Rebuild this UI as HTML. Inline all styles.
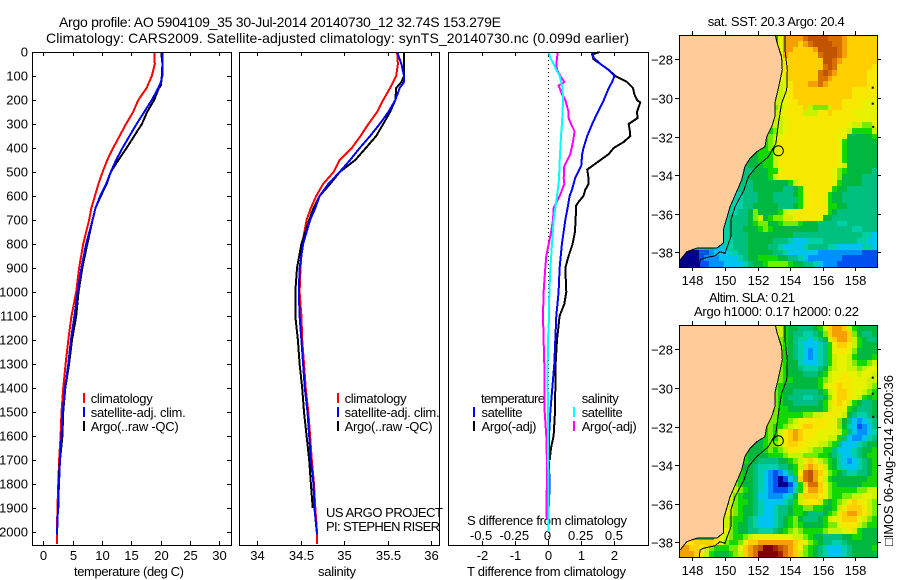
<!DOCTYPE html>
<html>
<head>
<meta charset="utf-8">
<title>Argo profile chart</title>
<style>
html,body{margin:0;padding:0;background:#fff;}
svg{display:block;font-family:"Liberation Sans",sans-serif;}
text{fill:#000;font-size:13px;}
</style>
</head>
<body>
<svg id="chart" width="900" height="580" viewBox="0 0 900 580" xmlns="http://www.w3.org/2000/svg">
<rect x="0" y="0" width="900" height="580" fill="#fff"/>
<text x="59" y="27" style="font-size:14px" textLength="442">Argo profile: AO 5904109_35 30-Jul-2014 20140730_12 32.74S 153.279E</text>
<text x="46" y="43" style="font-size:14px" textLength="583">Climatology: CARS2009. Satellite-adjusted climatology: synTS_20140730.nc (0.099d earlier)</text>

<text x="74" y="576" textLength="110">temperature (deg C)</text>
<text x="318" y="576" textLength="38">salinity</text>
<text x="467" y="576" textLength="159">T difference from climatology</text>
<text x="467" y="525" textLength="160">S difference from climatology</text>

<text x="90.7" y="403" textLength="62">climatology</text>
<text x="90.7" y="417" textLength="95">satellite-adj. clim.</text>
<text x="90.7" y="431" textLength="88">Argo(..raw -QC)</text>
<text x="344.6" y="403" textLength="62">climatology</text>
<text x="344.6" y="417" textLength="95">satellite-adj. clim.</text>
<text x="344.6" y="431" textLength="88">Argo(..raw -QC)</text>
<text x="326" y="517" textLength="117">US ARGO PROJECT</text>
<text x="326" y="531" textLength="114">PI: STEPHEN RISER</text>

<text x="481" y="403" textLength="64">temperature</text>
<text x="481.5" y="417" textLength="41">satellite</text>
<text x="481.5" y="431" textLength="55">Argo(-adj)</text>
<text x="581.7" y="403" textLength="37">salinity</text>
<text x="581.7" y="417" textLength="41">satellite</text>
<text x="581.7" y="431" textLength="55">Argo(-adj)</text>

<text x="707.7" y="26" textLength="137">sat. SST: 20.3 Argo: 20.4</text>
<text x="709" y="302" textLength="86">Altim. SLA: 0.21</text>
<text x="694" y="316" textLength="165">Argo h1000: 0.17 h2000: 0.22</text>
<text transform="translate(893,546) rotate(-90)" textLength="171">□IMOS 06-Aug-2014 20:00:36</text>
<g id="layer"></g>
</svg>
<script>
/* ---- depth ticks ---- */
const depthTicks = [0,100,200,300,400,500,600,700,800,900,1000,1100,1200,1300,1400,1500,1600,1700,1800,1900,2000];
const tempTicks = [0,5,10,15,20,25,30];
const salTicks = [34,34.5,35,35.5,36];
const salTickLabels = ['34','34.5','35','35.5','36'];
const tDiffTicks = [-2,-1,0,1,2];
const sDiffTicks = [-0.5,-0.25,0,0.25,0.5];
const lonTicks = [148,150,152,154,156,158];
const latTicks = [-28,-30,-32,-34,-36,-38];

/* ---- temperature profiles ---- */
const tempClimDepth = [0,50,100,150,200,250,300,350,400,450,500,550,600,650,700,800,900,1000,1100,1200,1300,1400,1500,1600,1700,1800,1900,2000,2050];
const tempClim = [18.9,19.0,18.5,17.6,16.2,15.3,14.1,13,11.9,10.9,10.1,9.4,8.8,8.2,7.8,6.8,6.1,5.6,4.8,4.26,3.8,3.4,3.1,2.95,2.7,2.55,2.4,2.33,2.3];
const tempSatDepth = [0,50,100,125,150,200,250,300,350,400,450,500,550,600,650,700,800,900,1000,1100,1200,1300,1400,1500,1600,1700,1800,1900,2010];
const tempSat = [20.3,20.3,20.3,20.05,19.6,18.5,17.2,15.9,14.7,13.5,12.4,11.5,10.7,9.7,8.9,8.4,7.3,6.5,5.85,5.3,4.7,4.26,3.7,3.3,3.1,2.85,2.67,2.5,2.33];
const tempArgoDepth = [0,50,100,140,150,200,250,300,350,400,450,500,550,600,650,700,800,900,1000,1100,1200,1300,1400,1500,1600,1700,1800,1900];
const tempArgo = [20.1,20.3,20.2,20.05,19.7,18.9,17.7,16.8,15.5,14.2,12.8,11.5,10.8,9.8,8.9,8.4,7.5,6.65,6,5.6,4.9,4.4,3.75,3.4,3.25,2.85,2.55,2.55];

/* ---- salinity profiles ---- */
const salClimDepth = [0,50,100,150,200,250,300,350,400,450,500,550,600,650,700,800,900,1000,1100,1200,1300,1400,1500,1600,1700,1800,1900,2000,2050];
const salClim = [35.61,35.62,35.6,35.53,35.45,35.38,35.28,35.19,35.09,34.95,34.88,34.76,34.68,34.62,34.57,34.52,34.5,34.49,34.51,34.52,34.54,34.56,34.59,34.61,34.63,34.655,34.67,34.69,34.69];
const salSatDepth = [0,50,100,125,150,200,250,300,350,400,450,500,550,600,650,700,800,900,1000,1100,1200,1300,1400,1500,1600,1700,1800,1900,2010];
const salSat = [35.61,35.66,35.69,35.69,35.64,35.59,35.51,35.41,35.3,35.18,35.07,34.95,34.82,34.72,34.67,34.61,34.53,34.49,34.48,34.49,34.51,34.53,34.55,34.58,34.6,34.62,34.65,34.66,34.69];
const salArgoDepth = [0,100,125,150,200,250,300,350,400,450,500,550,600,650,700,800,900,1000,1100,1200,1300,1400,1500,1600,1700,1800,1900];
const salArgo = [35.69,35.69,35.66,35.6,35.59,35.53,35.45,35.37,35.25,35.13,34.95,34.84,34.72,34.65,34.6,34.51,34.46,34.44,34.44,34.47,34.49,34.52,34.54,34.57,34.6,34.62,34.64];

/* ---- differences from climatology ---- */
const tDiffArgoDepth = [0,10,30,50,75,100,125,150,175,200,210,250,275,300,325,350,375,400,425,450,475,490,525,550,575,600,625,640,700,750,800,850,900,1000,1050,1100,1200,1300,1400,1500,1600,1650,1700];
const tDiffArgo = [1.56,1.33,1.37,1.58,1.83,2.03,2.38,2.56,2.6,2.68,2.78,2.68,2.7,2.43,2.46,2.48,2.28,1.98,1.83,1.58,1.33,1.18,1.22,1.22,1.12,1.07,0.92,0.85,0.83,0.81,0.74,0.62,0.52,0.55,0.49,0.35,0.27,0.23,0.22,0.21,0.17,0.09,0.05];
const tDiffSatDepth = [0,25,50,75,100,125,150,200,250,300,350,400,425,475,525,575,600,650,700,800,900,1000,1100,1200,1300,1400,1500,1600,1700,1800,1900,2000];
const tDiffSat = [1.33,1.38,1.58,1.83,2.0,1.93,1.83,1.68,1.5,1.33,1.18,1.07,1.03,1.0,0.82,0.72,0.65,0.59,0.52,0.42,0.35,0.32,0.25,0.22,0.19,0.13,0.07,0.03,0.02,0.05,0.02,0.02];
const sDiffSatDepth = [0,25,50,75,100,150,200,250,300,350,400,450,500,550,600,650,700,800,900,1000,1100,1200,1300,1400,1500,1600,1700,1800,1900,2000];
const sDiffSat = [0.005,0.018,0.043,0.063,0.088,0.11,0.113,0.11,0.105,0.098,0.093,0.088,0.085,0.08,0.068,0.055,0.043,0.03,0.018,0.01,0.008,0,-0.002,-0.002,0,0,0,0.005,0.005,0.005];
const sDiffArgoDepth = [0,50,75,100,125,140,175,200,250,275,300,330,375,425,475,525,550,600,650,700,750,800,850,900,1000,1100,1200,1300,1400,1500,1600,1700,1800,1900,1950];
const sDiffArgo = [0.073,0.063,0.068,0.093,0.123,0.08,0.105,0.13,0.155,0.155,0.173,0.2,0.188,0.168,0.123,0.118,0.123,0.088,0.043,0.038,0.023,0.005,-0.013,-0.02,-0.033,-0.038,-0.033,-0.028,-0.028,-0.025,-0.013,-0.008,-0.008,-0.013,-0.008];

/* ---- map outlines (lon/lat) ---- */
const coastLon = [153.09,153.2,153.48,153.52,153.28,153.07,153.07,152.87,152.56,152.46,151.95,151.54,151.23,151.03,150.72,150.31,150.11,149.9,149.9,149.5,148.27,147.66,147.25];
const coastLat = [-26.74,-27.16,-27.87,-28.55,-29.49,-30.26,-30.97,-31.49,-32.01,-32.53,-32.79,-33.13,-33.56,-34.25,-34.86,-35.64,-36.24,-36.84,-37.52,-37.79,-37.79,-37.97,-38.4];
const contourLon = [153.69,153.69,153.83,153.79,153.48,153.28,153.13,152.66,151.95,151.44,151.17,150.62,150.37,150.37,150.0,149.7,149.39,148.67,148.47,148.43];
const contourLat = [-26.74,-27.52,-28.55,-29.59,-30.28,-31.32,-32.35,-33.05,-33.56,-34.08,-34.77,-35.64,-36.33,-37.19,-38.05,-37.97,-38.18,-38.31,-38.4,-38.75];
const islandLon = [159.07,159.07,159.1];
const islandLat = [-29.47,-30.3,-31.5];
const profileLon = [153.279];
const profileLat = [-32.74];

/* ---- map fields, one letter per cell (colour level) ---- */
const sstGrid = [
"...................GKOOOOPQQQQPPPOMMMMMM",
"...................GKOOOMOPQQQQPPOMMMMMM",
"....................KOOMMMMOQQQQPOMMMMMM",
"....................KOMMMMMMPQQQPOMMMMMM",
"....................KLMMMMMMMQQPOMMMMMMM",
"....................KLMMMMMMMPQPMMMMMMML",
"....................KLMMMMMMPQPOMMMMMMLL",
"....................KKMMMMMMPPOMMMMMMMLL",
"....................JKLMMMOOPOMMMMMMMMLL",
"....................JKLMMMMMMMMMMMMLLLLL",
"...................JJKLMMMMMMMMMMMMLLLLL",
"...................JJKLLMMMMMMMMMLLLLKKK",
"...................IJKLLLMJIIIJMMLLLLKKK",
"..................IJKLLLLJJJLLMLLLLKKKKK",
"..................IJJKLLLLLLLLLLLLLLKKKK",
"..................IJJKLLLLLLLLLLLLKJJIIK",
"..................HIJKLLLLLLLLLLLKJHHHHJ",
".................HIJKLLLLLLLLLLLKKGGGGGH",
".................HIJLLLLLLLLLLLLKHGGGGGG",
"................HHIJLLLLLLLLLLLLKHGGGGGG",
"...............GHHHJLLLLLLLLLLLLKHGGGGGG",
"..............GGHHHJLLLLLLLLLLLLKHGGGGGG",
".............FGGGHHJLLLLLLLLLLLLKJGGGGGG",
".............FFGGGHHKLLLLLLLLLLKIHGGGGGF",
"............FFGGGGHJLLLLLLLLLLLKIGGGGFFF",
"............FFFGGGGGGGHJLLLLLLLKHGGGGFFF",
"...........EFFFGGGGGGFFGHKLLLLLHGGFFFFFF",
"...........EEFFFGGGFFFFGHKLLLLHGGFFFFFFF",
"...........EEFFFGGGFFFFFHKLLLKHGGFFFFFFF",
"..........EEEFFGGGGGFFFGHKLLLLHHGGFFFFFF",
"..........EEFFGIGGGGHJKLLLLLLKHGFFFFFFFF",
".........EFFFFGIJGHIIJJKLLLLKGGFFFFFFFFF",
".........EFFFFGHIIGGHIIIHGGGFFFFEEFFFFFF",
"........EEFFFGGGHIHGGGGGGGGGFFFFFFFEEFFF",
"........EEFFFFGGGGGGGGGFFFFFFFFFFFFFFEED",
"........EEEFFFGGGGGFFFEDDDEEEFFFFFFFEEDD",
".......DDEEFFFGGGGFFEDDDDEFFFFEEDDDDDEED",
"NNNNBBCDDDEEFFGGGGGFFEDDDDDDCCCCCCCCCBBB",
"NNNNBCCCDDDDEFGGHHHHGGFFEDCCCCCCCBBBBBBB",
"NNNNBBCCCDDDDEFGGHIIIIHGGFFEDCCCBBBBBBBB"
];
const slaGrid = [
"...................JJHGGFFFGHJMOOMJHGGGG",
"...................JJHGFFEEFGIMOOOMIGFFG",
"....................IHGFEEDEFGJMOOMJHGFF",
"....................IHGFEDDDEFHKMMLJHGGG",
"....................IHGFEDCDEFHKLLKIGGGG",
"....................IHGFEDCDEFHJKKJHGGGH",
"....................IHGGEDDDEFHJKKJIHHIJ",
"....................IHGGFEEEFGIJKKJJIJKK",
"....................IHGGGFFFGHJKKLKKJKKJ",
"....................IHHGGGGGHIJKLLLKKKJJ",
"...................IHGGGGGGGHJKLMLLKKKJI",
"...................IHGGFFFFFGHJKMMLKKJIH",
"...................IHGFFFEEFFGIKMMLKJHGH",
"..................JIHGGFFFFFGHJLMLJHGFFG",
"..................JIHHGGGGGGGHJKLKHGFFFG",
"..................JIHHHHHIIJJKLLKJGFEEFG",
"..................IIHHIJKKLLLLKKIGFDCDEF",
".................HIHHIJKLMMLLLKKIGEDBCDF",
".................HIHJLMOMLLLKKKKJHFDCCDE",
"................GHIHJLMOMLLKKKJJHFDCCDEF",
"...............GGHIIJLMMLLKKJJIHFDDDEFGG",
"..............GGGHIHIJLLKKJIIHHFDDDEFGGH",
".............HGGGGHHHIJJJIIIHHGFEDDEFGHH",
".............HGGFFFFGGHIJLMLJIHGEDCDEFGH",
"............HGGFEEEEFFGHJMOMLJHGEDDDEFGH",
"............HGGFEDCBCDFHLPQOMKIHGFEEFFGH",
"...........IHGGFEDCBNBDFMPQOLJHGGGGGGGHH",
"...........IHGGFEDCBNNBDHMPPMKIHGGGGGHHH",
"...........JIHGFEDCBBBCEHLOOMKIHHHHHIIJJ",
"..........JIHGGFDDCCCDEGJMMMLKIHHIIJJKKJ",
"..........JIHHGFEDDDDEFHJLLLJHGHIJLMLKJI",
".........KJIHGGFEDDEFFGHHIIHHGGHJLMMMLJI",
".........KJIHGGFEDDEFFGHHGFFFGHILMOOMLJI",
"........KJIHHGFEDDDEFGHIGFFFGHJKLMMMKJIH",
"........KJIHGGFEDDDEFGHIHGGGGHIIKLLLJIHH",
"........LKIHGGFFEEEFGHIJIHHHHIJJJKKJHGGG",
".......LKJIHHIJKKKKKKKKJJIHGGFFFFGGHHGGG",
"LLLMMMMLKIHHIKMMOOOOOOOMLKIHGFFEEFGGGGGG",
"OOMMLJIHHHIIKMOPQRRSQPOMKIHGFEDDDEFGGGGH",
"OOOMLJHGGGHIJMOPRRRRSPOMJIHGFEDDDEFGGGGG"
];
const levelColors = {N:'#00008c',B:'#0050f0',C:'#0090ff',D:'#00c4f0',E:'#00d0a8',F:'#00c080',G:'#00b840',H:'#10d800',I:'#78ec00',J:'#c8f200',K:'#e6f200',L:'#f6e800',M:'#ffcf00',O:'#f3a000',P:'#d87000',Q:'#c05400',R:'#800000',S:'#a82000'};

/* ---- axis functions ---- */
const yD = d => 52 + 0.24 * d;
const xT = v => 43.3 + 5.867 * v;
const xS = v => 257 + 87 * (v - 34);
const xDT = v => 548 + 33.2 * v;
const xDS = v => 548 + 132.8 * v;
const xLon = v => 692.3 + 16.3 * (v - 148);
const yLat = (v, y0) => y0 + 19.3 * (-28 - v);

const layer = document.getElementById('layer');
const NS = 'http://www.w3.org/2000/svg';
function mk(tag, attrs, parent) {
  const e = document.createElementNS(NS, tag);
  for (const k in attrs) e.setAttribute(k, attrs[k]);
  (parent || layer).appendChild(e);
  return e;
}
function line(x1, y1, x2, y2, name, parent) {
  const e = mk('line', {x1: x1, y1: y1, x2: x2, y2: y2, stroke: '#000', 'stroke-width': 1, 'shape-rendering': 'crispEdges'}, parent);
  
  
  return e;
}
function label(x, y, str, anchor, name, parent) {
  const e = mk('text', {x: x, y: y, 'text-anchor': anchor}, parent);
  e.textContent = str;
  
  
  return e;
}
function series(depths, values, xf, color, width, name) {
  const pts = values.map((v, i) => xf(v).toFixed(1) + ',' + yD(depths[i]).toFixed(1)).join(' ');
  const e = mk('polyline', {points: pts, fill: 'none', stroke: color, 'stroke-width': width, 'shape-rendering': 'crispEdges'});
  
  
  return e;
}
function frame(x, y, w, h, name) {
  const e = mk('rect', {x: x + 0.5, y: y + 0.5, width: w, height: h, fill: 'none', stroke: '#000', 'stroke-width': 1, 'shape-rendering': 'crispEdges'});
  
  
  return e;
}
function legendBar(x, y, color, name) {
  const e = mk('rect', {x: x, y: y - 5, width: 2, height: 10, fill: color, 'shape-rendering': 'crispEdges'});
  
  
  return e;
}

/* ---- profile panels ---- */
const TOP = 52, BOT = 545;
const panels = [[32, 199], [239, 200], [448, 200]];

depthTicks.forEach(d => {
  const y = Math.round(yD(d)) + 0.5;
  label(28, y + 4, String(d), 'end', 'depth-tick-label');
  if (d > 0) {
    line(32, y, 36, y, 'depth-tick-left');
    line(227, y, 231, y, 'depth-tick-right');
  }
});
tempTicks.forEach(v => {
  const x = Math.round(xT(v)) + 0.5;
  line(x, TOP, x, TOP + 4, 'temperature-tick-top');
  line(x, BOT - 4, x, BOT, 'temperature-tick-bottom');
  label(x, 560, String(v), 'middle', 'temperature-tick-label');
});
salTicks.forEach((v, i) => {
  const x = Math.round(xS(v)) + 0.5;
  line(x, TOP, x, TOP + 4, 'salinity-tick-top');
  line(x, BOT - 4, x, BOT, 'salinity-tick-bottom');
  label(x, 560, salTickLabels[i], 'middle', 'salinity-tick-label');
});
tDiffTicks.forEach(v => {
  const x = Math.round(xDT(v)) + 0.5;
  line(x, TOP, x, TOP + 4, 't-difference-tick-top');
  line(x, BOT - 4, x, BOT, 't-difference-tick-bottom');
  label(x, 560, String(v), 'middle', 't-difference-tick-label');
});
sDiffTicks.forEach(v => {
  label(xDS(v) - 0.5, 540, String(v), 'middle', 's-difference-tick-label');
});

series(tempClimDepth, tempClim, xT, '#f00', 2, 'temperature-climatology-line');
series(tempArgoDepth, tempArgo, xT, '#000', 2, 'temperature-argo-line');
series(tempSatDepth, tempSat, xT, '#00f', 2, 'temperature-satellite-line');
series(salClimDepth, salClim, xS, '#f00', 2, 'salinity-climatology-line');
series(salArgoDepth, salArgo, xS, '#000', 2, 'salinity-argo-line');
series(salSatDepth, salSat, xS, '#00f', 2, 'salinity-satellite-line');

const zeroLine = mk('line', {x1: 548.5, y1: TOP, x2: 548.5, y2: BOT, stroke: '#000', 'stroke-width': 1, 'stroke-dasharray': '1 3', 'shape-rendering': 'crispEdges'});



series(tDiffArgoDepth, tDiffArgo, xDT, '#000', 2, 't-difference-argo-line');
series(tDiffSatDepth, tDiffSat, xDT, '#00f', 2, 't-difference-satellite-line');
series(sDiffArgoDepth, sDiffArgo, xDS, '#f0f', 2, 's-difference-argo-line');
series(sDiffSatDepth, sDiffSat, xDS, '#0ff', 2, 's-difference-satellite-line');

panels.forEach(p => frame(p[0], TOP, p[1], BOT - TOP, 'profile-panel-frame'));

legendBar(83, 398, '#f00', 'legend-swatch-climatology');
legendBar(83, 412, '#00f', 'legend-swatch-satellite-adj');
legendBar(83, 426, '#000', 'legend-swatch-argo');
legendBar(337, 398, '#f00', 'legend-swatch-climatology-salinity');
legendBar(337, 412, '#00f', 'legend-swatch-satellite-adj-salinity');
legendBar(337, 426, '#000', 'legend-swatch-argo-salinity');
legendBar(473, 412, '#00f', 'legend-swatch-t-satellite');
legendBar(473, 426, '#000', 'legend-swatch-t-argo');
legendBar(573, 412, '#0ff', 'legend-swatch-s-satellite');
legendBar(573, 426, '#f0f', 'legend-swatch-s-argo');

/* ---- maps ---- */
function drawMap(grid, top, y0, cellName, prefix) {
  const left = 679, width = 198, height = 232, cols = 40, rows = 40;
  const bg = mk('rect', {x: left, y: top, width: width, height: height, fill: '#00c080'});
  
  
  grid.forEach((row, r) => {
    for (let c = 0; c < cols; c++) {
      const ch = row[c];
      if (!levelColors[ch]) continue;
      const x1 = Math.round(left + c * width / cols), x2 = Math.round(left + (c + 1) * width / cols);
      const y1 = Math.round(top + r * height / rows), y2 = Math.round(top + (r + 1) * height / rows);
      const cell = mk('rect', {x: x1, y: y1, width: x2 - x1, height: y2 - y1, fill: levelColors[ch], 'shape-rendering': 'crispEdges'});
      
      
    }
  });
  const pts = coastLon.map((v, i) => xLon(v).toFixed(1) + ',' + yLat(coastLat[i], y0).toFixed(1));
  pts.push(left + ',' + (top + height - 7));
  pts.push(left + ',' + top);
  const land = mk('polygon', {points: pts.join(' '), fill: '#ffcc99', stroke: 'none'});
  
  
  const coast = mk('polyline', {points: coastLon.map((v, i) => xLon(v).toFixed(1) + ',' + yLat(coastLat[i], y0).toFixed(1)).join(' '), fill: 'none', stroke: '#000', 'stroke-width': 1, 'shape-rendering': 'crispEdges'});
  
  
  const contour = mk('polyline', {points: contourLon.map((v, i) => xLon(v).toFixed(1) + ',' + yLat(contourLat[i], y0).toFixed(1)).join(' '), fill: 'none', stroke: '#000', 'stroke-width': 1, 'shape-rendering': 'crispEdges'});
  
  
  islandLon.forEach((v, i) => {
    const isl = mk('rect', {x: xLon(v) - 1, y: yLat(islandLat[i], y0) - 1, width: 2, height: 2, fill: '#000'});
    
    
  });
  const mark = mk('circle', {cx: xLon(profileLon[0]), cy: yLat(profileLat[0], y0), r: 5, fill: 'none', stroke: '#000', 'stroke-width': 1});
  
  
  frame(left, top, width, height, prefix + '-frame');
  const bottom = top + height;
  lonTicks.forEach(v => {
    const x = Math.round(xLon(v)) + 0.5;
    line(x, top - 4, x, top, prefix + '-lon-tick-top');
    line(x, bottom, x, bottom + 4, prefix + '-lon-tick-bottom');
    label(x, bottom + 18, String(v), 'middle', prefix + '-lon-tick-label');
  });
  latTicks.forEach(v => {
    const y = Math.round(yLat(v, y0)) + 0.5;
    line(left - 4, y, left, y, prefix + '-lat-tick-left');
    line(left + width, y, left + width + 4, y, prefix + '-lat-tick-right');
    label(673, y + 5, '\u2212' + Math.abs(v), 'end', prefix + '-lat-tick-label');
  });
}
drawMap(sstGrid, 35, 59.3, 'sst-cell', 'sst-map');
drawMap(slaGrid, 325, 349.3, 'sla-cell', 'sla-map');
</script>
</body>
</html>
